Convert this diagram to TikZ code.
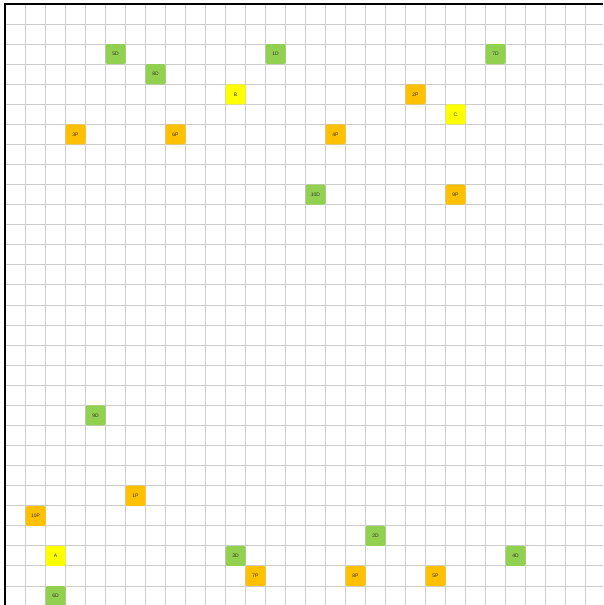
\documentclass[tikz,border=0pt]{standalone}
\usepackage{fontspec}
\setmainfont{Liberation Sans}
\definecolor{cgreen}{HTML}{92D050}
\definecolor{corange}{HTML}{FFC000}
\definecolor{cyellow}{HTML}{FFFF00}
\definecolor{cgrid}{HTML}{CCCCCC}
\definecolor{ctext}{HTML}{333333}
\tikzset{
  gridline/.style={draw=cgrid, line width=1pt},
  frameline/.style={draw=black, line width=1.4pt},
  cellbox/.style={inner sep=0pt, minimum width=20pt, minimum height=20.07pt,
    rounded corners=1.5pt, text=ctext, font=\fontsize{5}{6}\selectfont},
  dbox/.style={cellbox, fill=cgreen},
  pbox/.style={cellbox, fill=corange},
  xbox/.style={cellbox, fill=cyellow},
}
\newcommand{\cellat}[2]{({5.5+20*#1+10},{-(4+20.07*#2+10.035)})}
\begin{document}
\begin{tikzpicture}[x=1pt,y=1pt]
\useasboundingbox (0,0) rectangle (603,-605);
\fill[white] (0,0) rectangle (603,-605);
\foreach \i in {1,...,29} \draw[gridline] ({5+20*\i},-4) -- ({5+20*\i},-605);
\foreach \j in {1,...,29} \draw[gridline] (5,{-(4+20.07*\j)}) -- (603,{-(4+20.07*\j)});
\draw[frameline] (5,-605) -- (5,-4) -- (603,-4);
% D boxes
\node[dbox] (n5D) at \cellat{5}{2} {5D};
\node[dbox] (n1D) at \cellat{13}{2} {1D};
\node[dbox] (n7D) at \cellat{24}{2} {7D};
\node[dbox] (n8D) at \cellat{7}{3} {8D};
\node[dbox] (n10D) at \cellat{15}{9} {10D};
\node[dbox] (n9D) at \cellat{4}{20} {9D};
\node[dbox] (n2D) at \cellat{18}{26} {2D};
\node[dbox] (n3D) at \cellat{11}{27} {3D};
\node[dbox] (n4D) at \cellat{25}{27} {4D};
\node[dbox] (n6D) at \cellat{2}{29} {6D};
% P boxes
\node[pbox] (n2P) at \cellat{20}{4} {2P};
\node[pbox] (n3P) at \cellat{3}{6} {3P};
\node[pbox] (n6P) at \cellat{8}{6} {6P};
\node[pbox] (n4P) at \cellat{16}{6} {4P};
\node[pbox] (n9P) at \cellat{22}{9} {9P};
\node[pbox] (n1P) at \cellat{6}{24} {1P};
\node[pbox] (n10P) at \cellat{1}{25} {10P};
\node[pbox] (n7P) at \cellat{12}{28} {7P};
\node[pbox] (n8P) at \cellat{17}{28} {8P};
\node[pbox] (n5P) at \cellat{21}{28} {5P};
% letter boxes
\node[xbox] (nB) at \cellat{11}{4} {B};
\node[xbox] (nC) at \cellat{22}{5} {C};
\node[xbox] (nA) at \cellat{2}{27} {A};
\end{tikzpicture}
\end{document}
